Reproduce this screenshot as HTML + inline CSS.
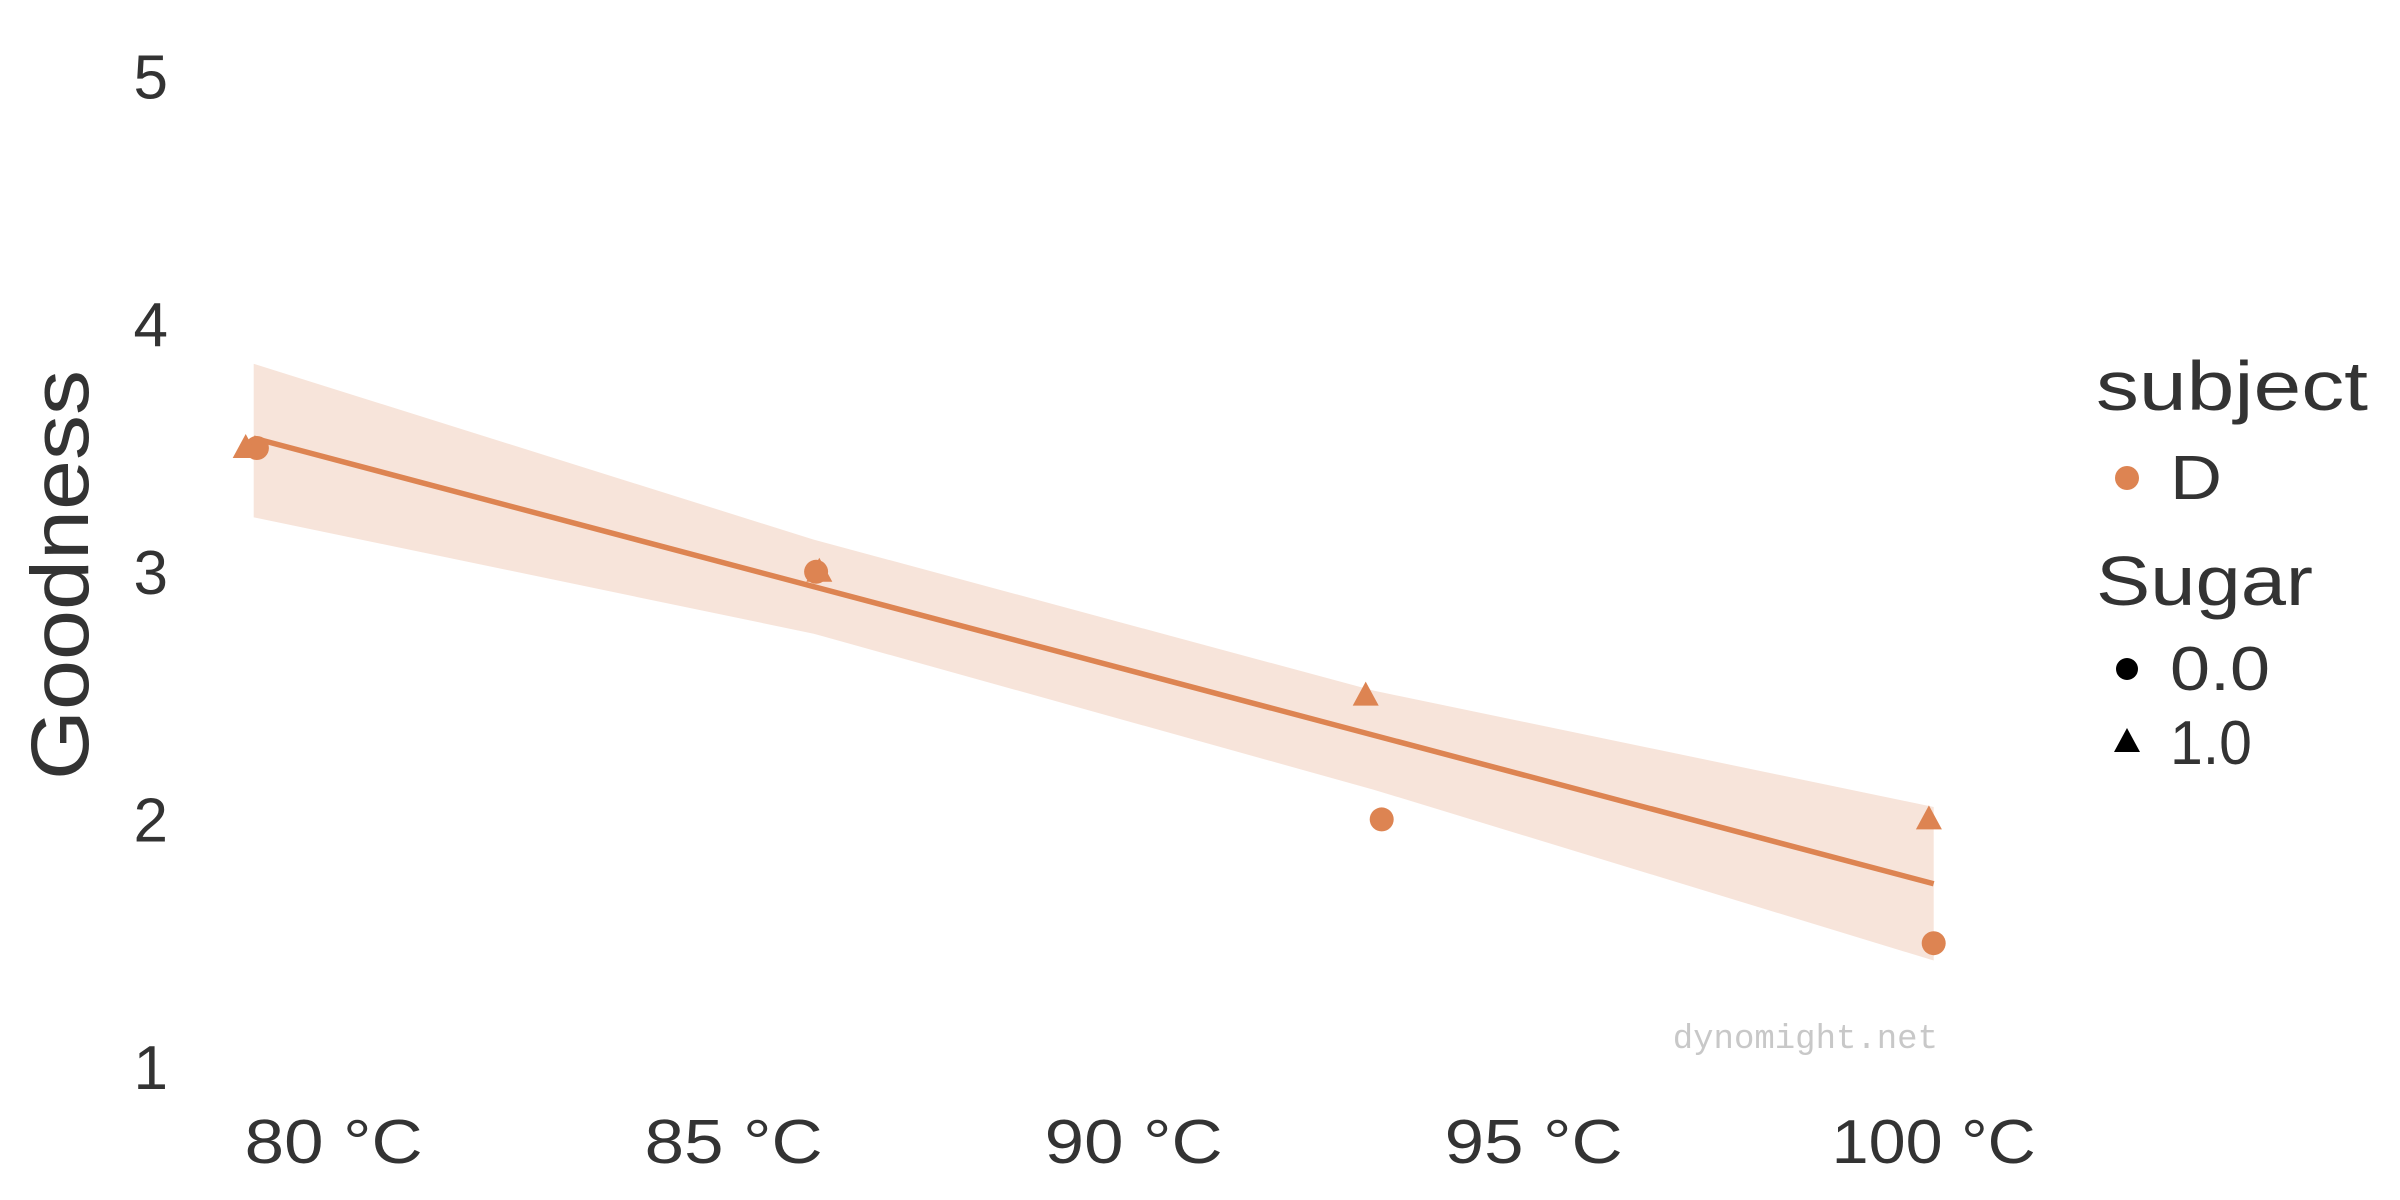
<!DOCTYPE html>
<html><head><meta charset="utf-8"><style>
html,body{margin:0;padding:0;background:#fff;}
svg{display:block;font-family:"Liberation Sans",sans-serif;}
</style></head><body>
<svg id="chart" width="2400" height="1200" viewBox="0 0 2400 1200">
<g id="band"></g>
<g id="line"></g>
<g id="pts"></g>
<g id="yt"></g>
<g id="xt"></g>
<text x="0" y="0" transform="translate(88,575) rotate(-90)" text-anchor="middle" font-size="82" textLength="410" lengthAdjust="spacingAndGlyphs" fill="#333">Goodness</text>
<text x="1938" y="1048" text-anchor="end" font-family="Liberation Mono, monospace" font-size="34" fill="#c8c8c8">dynomight.net</text>
<g>
<text x="2096" y="410" font-size="70" textLength="272" lengthAdjust="spacingAndGlyphs" fill="#333">subject</text>
<circle cx="2127" cy="478" r="12" fill="#dd8452"/>
<text x="2170" y="499" font-size="62" textLength="52" lengthAdjust="spacingAndGlyphs" fill="#333">D</text>
<text x="2096" y="605" font-size="70" textLength="217" lengthAdjust="spacingAndGlyphs" fill="#333">Sugar</text>
<circle cx="2127" cy="669" r="11" fill="#000"/>
<text x="2170" y="690" font-size="62" textLength="100" lengthAdjust="spacingAndGlyphs" fill="#333">0.0</text>
<path d="M2127,728 L2140,752 L2114,752 Z" fill="#000"/>
<text x="2170" y="764" font-size="62" textLength="82" lengthAdjust="spacingAndGlyphs" fill="#333">1.0</text>
</g>
</svg>
<script>
const xTicks=[80,85,90,95,100];
const xTickLabels=["80 °C","85 °C","90 °C","95 °C","100 °C"];
const yTicks=[1,2,3,4,5];
const yTickLabels=["1","2","3","4","5"];
const pointX=[79.04,78.9,86.03,86.07,92.9,93.1,99.94,100.0];
const pointY=[3.5,3.5,3.0,3.0,2.5,2.0,2.0,1.5];
const pointSugar=[0,1,0,1,1,0,1,0];
const fitX=[79,100];
const fitY=[3.54,1.74];
const bandX=[79,86,93,100];
const bandUpper=[3.84,3.13,2.52,2.05];
const bandLower=[3.22,2.75,2.12,1.43];

const X=v=>333.7+(v-80)*80;
const Y=v=>1067-(v-1)*247.6;
const NS="http://www.w3.org/2000/svg";
function mk(tag,parent){const e=document.createElementNS(NS,tag);document.getElementById(parent).appendChild(e);return e;}

let d="";
bandX.forEach((x,i)=>{d+=(i?"L":"M")+X(x)+","+Y(bandUpper[i]);});
for(let i=bandX.length-1;i>=0;i--)d+="L"+X(bandX[i])+","+Y(bandLower[i]);
const bp=mk("path","band");


bp.setAttribute("d",d+"Z");bp.setAttribute("fill","#f7e4da");

const ln=mk("line","line");


ln.setAttribute("x1",X(fitX[0]));ln.setAttribute("y1",Y(fitY[0]));
ln.setAttribute("x2",X(fitX[1]));ln.setAttribute("y2",Y(fitY[1]));
ln.setAttribute("stroke","#dd8452");ln.setAttribute("stroke-width","5.5");

pointX.forEach((px,i)=>{
  const cx=X(px),cy=Y(pointY[i]);
  let e;
  if(pointSugar[i]===0){e=mk("circle","pts");e.setAttribute("cx",cx);e.setAttribute("cy",cy);e.setAttribute("r",12);}
  else{e=mk("path","pts");e.setAttribute("d",`M${cx},${cy-14} L${cx+13},${cy+10} L${cx-13},${cy+10} Z`);}
  
  
  e.setAttribute("fill","#dd8452");
});

yTicks.forEach((v,i)=>{
  const t=mk("text","yt");
  
  
  t.setAttribute("x",168);t.setAttribute("y",Y(v)+22);t.setAttribute("text-anchor","end");
  t.setAttribute("font-size","62");t.setAttribute("fill","#333");t.textContent=yTickLabels[i];
});
xTicks.forEach((v,i)=>{
  const t=mk("text","xt");
  
  
  t.setAttribute("x",X(v));t.setAttribute("y",1163);t.setAttribute("text-anchor","middle");
  t.setAttribute("font-size","62");t.setAttribute("fill","#333");
  t.setAttribute("textLength",xTickLabels[i].length>5?204:178);
  t.setAttribute("lengthAdjust","spacingAndGlyphs");
  t.textContent=xTickLabels[i];
});
</script>
</body></html>
